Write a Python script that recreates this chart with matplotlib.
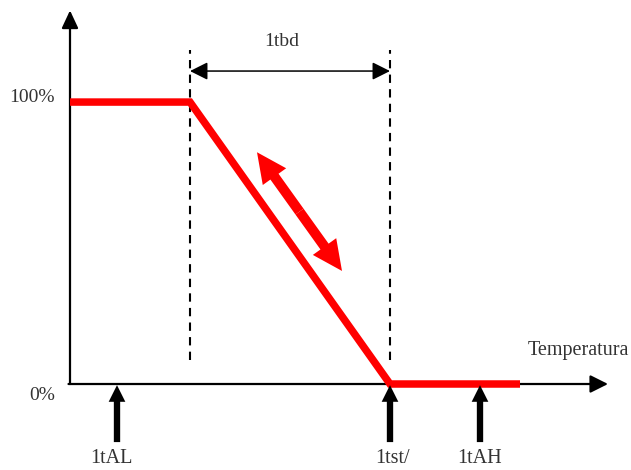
import matplotlib.pyplot as plt

# Temperature axis in arbitrary units, output in percent
curve_t = [0, 24, 64, 90]
curve_pct = [100, 100, 0, 0]

band_t = [24, 64]               # 1tbd band (dashed lines)
band_label = '1tbd'

marker_t = [9.4, 64, 82]        # black arrows under the axis
marker_label_t = [8.2, 64.6, 82]
marker_labels = ['1tAL', '1tst/', '1tAH']

shift_start = (37.4, 82.2)      # red double arrow (band shift)
shift_end = (54.4, 40.1)

y_ticks = [100, 0]
y_labels = ['100%', '0%']
x_title = 'Temperatura'

plt.rcParams['font.family'] = ['Liberation Serif', 'DejaVu Serif']
txt = '#333333'

fig = plt.figure(figsize=(6.31, 4.70), dpi=100)
ax = fig.add_axes([0, 0, 1, 1])
ax.set_xlim(-14, 112.2)
ax.set_ylim(-30.5, 136.2)
ax.axis('off')

# axes with arrow heads
ax.annotate('', xy=(0, 132.5), xytext=(0, 0),
            arrowprops=dict(arrowstyle='-|>,head_length=0.9,head_width=0.42', mutation_scale=12,
                            lw=1.6, color='black', shrinkA=0, shrinkB=0))
ax.annotate('', xy=(107.6, 0), xytext=(-0.3, 0),
            arrowprops=dict(arrowstyle='-|>,head_length=0.9,head_width=0.45', mutation_scale=12,
                            lw=1.6, color='black', shrinkA=0, shrinkB=0))

# dashed band limits
for t in band_t:
    ax.plot([t, t], [8.5, 118.4], color='black', lw=1.5, ls=(0, (4, 3)))

# dimension arrow
ax.annotate('', xy=(band_t[1], 111), xytext=(band_t[0], 111),
            arrowprops=dict(arrowstyle='<|-|>,head_length=0.9,head_width=0.45', mutation_scale=12,
                            lw=1.1, color='black', shrinkA=0, shrinkB=0))
ax.text(42.4, 121.5, band_label, ha='center', va='center', fontsize=14, color=txt)

# main red curve
ax.plot(curve_t, curve_pct, color='#ff0000', lw=5.4, solid_capstyle='butt', solid_joinstyle='miter', zorder=3)

# red double arrow
mid = ((shift_start[0] + shift_end[0]) / 2, (shift_start[1] + shift_end[1]) / 2)
for end in (shift_start, shift_end):
    ax.annotate('', xy=end, xytext=mid,
                arrowprops=dict(arrowstyle='simple,head_length=1.2,head_width=1.15,tail_width=0.4',
                                mutation_scale=18, color='#ff0000', lw=0, shrinkA=0, shrinkB=0))

# marker arrows and labels
for t in marker_t:
    ax.annotate('', xy=(t, -0.4), xytext=(t, -20.6),
                arrowprops=dict(arrowstyle='simple,head_length=1.0,head_width=1.0,tail_width=0.38',
                                mutation_scale=12, color='black', lw=0, shrinkA=0, shrinkB=0))
for t, lab in zip(marker_label_t, marker_labels):
    ax.text(t, -29.9, lab, ha='center', va='bottom', fontsize=14.5, color=txt)

# y labels
ax.text(-7.6, y_ticks[0] + 1.5, y_labels[0], ha='center', va='center', fontsize=14, color=txt)
ax.text(-5.6, y_ticks[1] - 3.9, y_labels[1], ha='center', va='center', fontsize=14, color=txt)

ax.text(91.6, 12, x_title, ha='left', va='center', fontsize=14.5, color=txt)

fig.savefig('out.png', dpi=100)
